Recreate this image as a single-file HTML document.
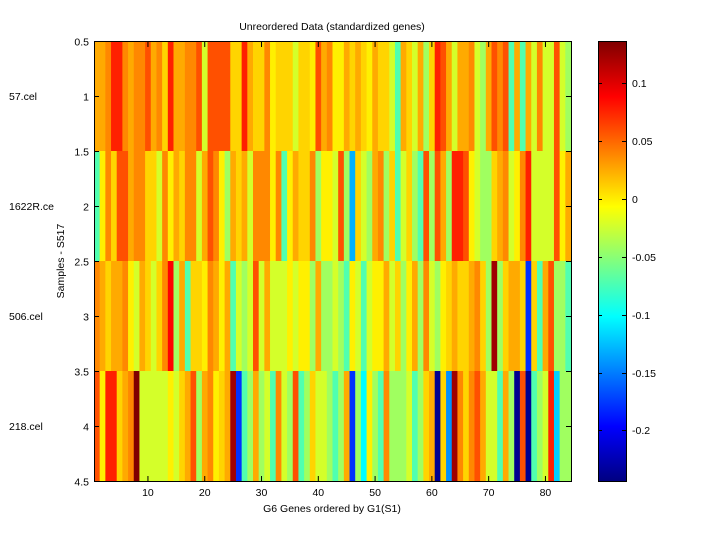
<!DOCTYPE html>
<html><head><meta charset="utf-8"><style>
body{margin:0;background:#fff;width:720px;height:540px;overflow:hidden}
svg text{font-family:"Liberation Sans",sans-serif;font-size:10.5px;fill:#000}
</style></head><body>
<svg id="s" width="720" height="540" xmlns="http://www.w3.org/2000/svg">
<defs><linearGradient id="jet" x1="0" y1="0" x2="0" y2="1">
<stop offset="0" stop-color="#800000"/><stop offset="0.125" stop-color="#ff0000"/>
<stop offset="0.375" stop-color="#ffff00"/><stop offset="0.625" stop-color="#00ffff"/>
<stop offset="0.875" stop-color="#0000ff"/><stop offset="1" stop-color="#000080"/></linearGradient></defs>
<g id="cells"></g>
<rect x="94.5" y="41.5" width="477" height="440" fill="none" stroke="#000"/>
<rect x="598.5" y="41.5" width="28" height="440" fill="url(#jet)" stroke="#000"/>
<g id="ticks" stroke="#000"></g>
<g id="labels"></g>
<text x="332" y="30" text-anchor="middle">Unreordered Data (standardized genes)</text>
<text x="332" y="512" text-anchor="middle">G6 Genes ordered by G1(S1)</text>
<text transform="translate(64,261) rotate(-90)" text-anchor="middle">Samples - S517</text>
<text x="9" y="100">57.cel</text>
<text x="9" y="210">1622R.ce</text>
<text x="9" y="320">506.cel</text>
<text x="9" y="430">218.cel</text>
</svg>
<script>
var P={R:"#ff2000",O:"#ff5000",o:"#ff8800",A:"#ffaa00",Y:"#ffd400",y:"#fff000",L:"#d4ff2a",G:"#a0ff60",C:"#50ffb0",B:"#00b0ff",b:"#0030ff",N:"#000090",D:"#a00000",M:"#800000",c:"#00ffff",d:"#00d0ff",r:"#ff0000",u:"#0090ff"};
var rows=[
"AAoRRoAooOAoYRAAooOLOOOOYYRAYYoyYYYLYYyOAoyyAYAYyAYYLCAYLAGYROALAAoLGAOoOCACALoLLOLG",
"CyoYOOAooYYLoyAYooLAOoyGAYALoooyoCyAYYoGyyLOGBYLGAoGYCLYGCOGOAGRROyLGGYAoLyoRLLLLOyA",
"oAYAAoyLAYLYorGACYYyoAyACLGLOLALLLyLyyGAGGLGCyLCLyyALYGyAGoLGyYAYYAoYGDGYAAYbYCAOGGC",
"OyRRYAoMLLLLLyLYAOGAoyYADbCGAGLCoLGOCGYLLGCGAbGcyGCoGGGLCGYANYuDoYoOALLCAGNONCGLRdGG"];
var g=document.getElementById("cells"),h="",w=477/84;
rows.forEach(function(r,j){for(var i=0;i<84;i++){var c=P[r[i]]||"#ffd400";
h+='<rect x="'+(94+i*w).toFixed(2)+'" y="'+(41+j*110)+'" width="'+(w+0.6).toFixed(2)+'" height="110" fill="'+c+'"/>';}});
g.innerHTML=h;
var t="",l="";
for(var k=10;k<=80;k+=10){var x=94+(k-0.5)*w;t+='<line x1="'+x+'" y1="481" x2="'+x+'" y2="476"/><line x1="'+x+'" y1="42" x2="'+x+'" y2="47"/>';
l+='<text x="'+x+'" y="496" text-anchor="middle">'+k+'</text>';}
var yl=["0.5","1","1.5","2","2.5","3","3.5","4","4.5"];
for(var k=0;k<9;k++){var y=41.5+k*55;t+='<line x1="94" y1="'+y+'" x2="99" y2="'+y+'"/><line x1="571" y1="'+y+'" x2="566" y2="'+y+'"/>';
l+='<text x="89" y="'+(y+4)+'" text-anchor="end">'+yl[k]+'</text>';}
var cb=[["0.1",83],["0.05",141],["0",199],["-0.05",257],["-0.1",315],["-0.15",373],["-0.2",430]];
cb.forEach(function(a){t+='<line x1="598" y1="'+a[1]+'.5" x2="602" y2="'+a[1]+'.5"/><line x1="626" y1="'+a[1]+'.5" x2="622" y2="'+a[1]+'.5"/>';
l+='<text x="632" y="'+(a[1]+4)+'">'+a[0]+'</text>';});
document.getElementById("ticks").innerHTML=t;document.getElementById("labels").innerHTML=l;
</script>
</body></html>
